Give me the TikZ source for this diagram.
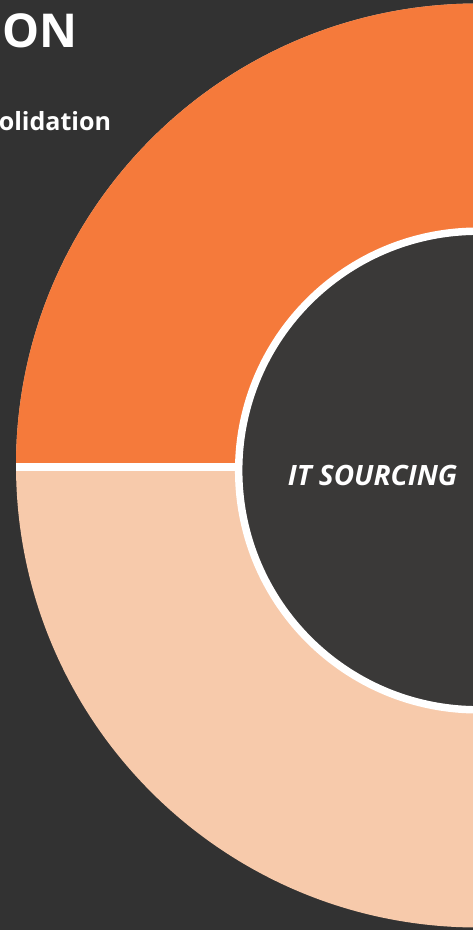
\documentclass[tikz,border=0pt]{standalone}
\usepackage{fontspec}
\setmainfont{Open Sans}
\definecolor{bgc}{HTML}{323232}
\definecolor{orangec}{HTML}{F57A3B}
\definecolor{lightc}{HTML}{F7CAAB}
\definecolor{innerc}{HTML}{3A3938}
\tikzset{
  lbl/.style={text=white, inner sep=0pt, font=\bfseries},
}
\begin{document}
\begin{tikzpicture}[x=0.75pt,y=-0.75pt]
\useasboundingbox (0,0) rectangle (473,930);
\clip (0,0) rectangle (473,930);
\fill[bgc] (0,0) rectangle (473,930);
\coordinate (oc) at (478,465.5);
\coordinate (ic) at (478,470.5);
% lower half (light)
\fill[lightc] (oc) circle[radius=462];
% upper half (orange)
\begin{scope}
  \clip (0,0) rectangle (473,466.7);
  \fill[orangec] (oc) circle[radius=462];
\end{scope}
% white divider
\begin{scope}
  \clip (oc) circle[radius=462];
  \coordinate (d1) at (10,466.7);
  \coordinate (d2) at (250,466.7);
  \draw[white, line width=6pt] (d1) -- (d2);
\end{scope}
% inner circle
\draw[white, line width=5.6pt, fill=innerc] (ic) circle[radius=239.3];
% texts
\node[lbl, anchor=base west, font=\bfseries\fontsize{35}{40}\selectfont] (t1) at (2,48) {ON};
\node[lbl, anchor=base west, font=\bfseries\fontsize{18.8}{22}\selectfont] (t2) at (-1.5,131) {olidation};
\node[lbl, anchor=base, font=\bfseries\itshape\fontsize{21}{25}\selectfont] (t3) at (372.5,485) {IT SOURCING};
\end{tikzpicture}
\end{document}
